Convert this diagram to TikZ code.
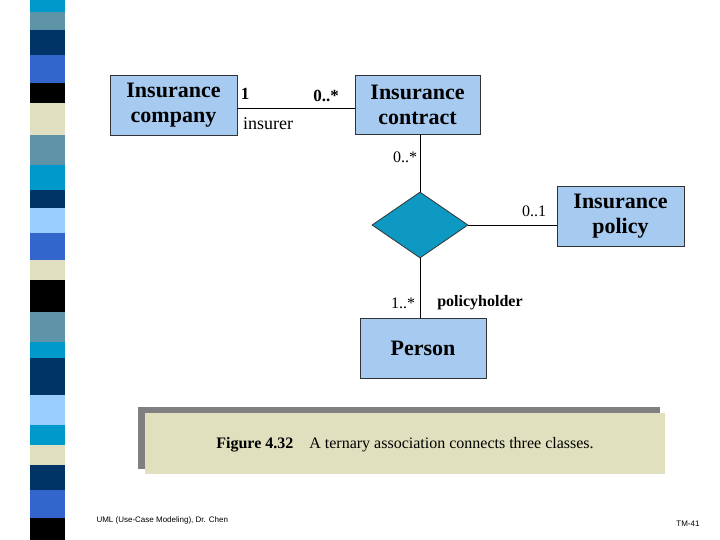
\documentclass[tikz,border=0pt]{standalone}
\usepackage{fontspec}
\setmainfont{Liberation Serif}
\newfontfamily\footfont{Liberation Sans}
\usetikzlibrary{shapes.geometric}
\definecolor{cls}{HTML}{A6CAF0}
\definecolor{dia}{HTML}{0E99C2}
\definecolor{capfill}{HTML}{E0E0BE}
\definecolor{sh}{HTML}{808080}
\definecolor{cA}{HTML}{0099CC}
\definecolor{cB}{HTML}{5F93A8}
\definecolor{cC}{HTML}{003366}
\definecolor{cD}{HTML}{3366CC}
\definecolor{cE}{HTML}{000000}
\definecolor{cF}{HTML}{E0E0C0}
\definecolor{cG}{HTML}{99CCFF}
\tikzset{
 classbox/.style={draw=black!80,fill=cls,line width=0.8pt,inner sep=0pt,align=center,font=\bfseries\fontsize{22}{25}\selectfont},
 mult/.style={font=\fontsize{16}{18}\selectfont,inner sep=0pt},
 conn/.style={line width=0.8pt},
}
\begin{document}
\begin{tikzpicture}[x=1pt,y=-1pt]
\useasboundingbox (0,0) rectangle (720,540);
\fill[white] (0,0) rectangle (720,540);
% stripe
\foreach \a/\b/\c in {0/12/cA,12/30/cB,30/55/cC,55/83/cD,83/103/cE,103/135/cF,135/165/cB,165/190/cA,190/208/cC,208/233/cG,233/260/cD,260/280/cF,280/312/cE,312/342/cB,342/358/cA,358/395/cC,395/425/cG,425/445/cA,445/465/cF,465/490/cC,490/518/cD,518/540/cE}
 \fill[\c] (30,\a) rectangle (65,\b);
% classes
\node[classbox,minimum width=127pt,minimum height=60pt] (ic) at (173.5,105) {Insurance\\company};
\node[classbox,minimum width=125pt,minimum height=59pt] (ict) at (417.5,104.5) {Insurance\\contract};
\node[classbox,minimum width=127pt,minimum height=60pt] (ip) at (620.5,216) {Insurance\\policy};
\node[classbox,minimum width=126pt,minimum height=60pt] (pe) at (423,348) {Person};
\node[diamond,draw=black!80,fill=dia,line width=0.8pt,minimum width=96pt,minimum height=66pt,inner sep=0pt,aspect=1.45] (d) at (420,225) {};
% connectors
\draw[conn] (ic.east |- 0,108) -- (ict.west |- 0,108);
\draw[conn] (ict.south -| d.north) -- (d.north);
\draw[conn] (d.east) -- (d.east -| ip.west);
\draw[conn] (d.south) -- (d.south |- pe.north);
% labels
\node[mult,font=\bfseries\fontsize{17}{18}\selectfont] (l1) at (245,94) {1};
\node[mult,font=\bfseries\fontsize{17}{18}\selectfont] (l2) at (326,96) {0..*};
\node[mult,font=\fontsize{18}{20}\selectfont] (l3) at (268,124) {insurer};
\node[mult] (l4) at (405,157) {0..*};
\node[mult] (l5) at (534,211) {0..1};
\node[mult] (l6) at (403,303) {1..*};
\node[mult,font=\bfseries\fontsize{16}{18}\selectfont] (l7) at (480,303) {policyholder};
% caption
\fill[sh] (138,407) rectangle (660,469);
\fill[capfill] (145,413) rectangle (665,474);
\node[font=\fontsize{16}{18}\selectfont] (capt) at (405,445) {\textbf{Figure 4.32}\quad A ternary association connects three classes.};
\node[font=\footfont\fontsize{8}{9}\selectfont,anchor=west] (f1) at (93,520) {UML (Use-Case Modeling), Dr. Chen};
\node[font=\footfont\fontsize{8}{9}\selectfont,anchor=east] (f2) at (703,524) {TM-41};
\end{tikzpicture}
\end{document}
